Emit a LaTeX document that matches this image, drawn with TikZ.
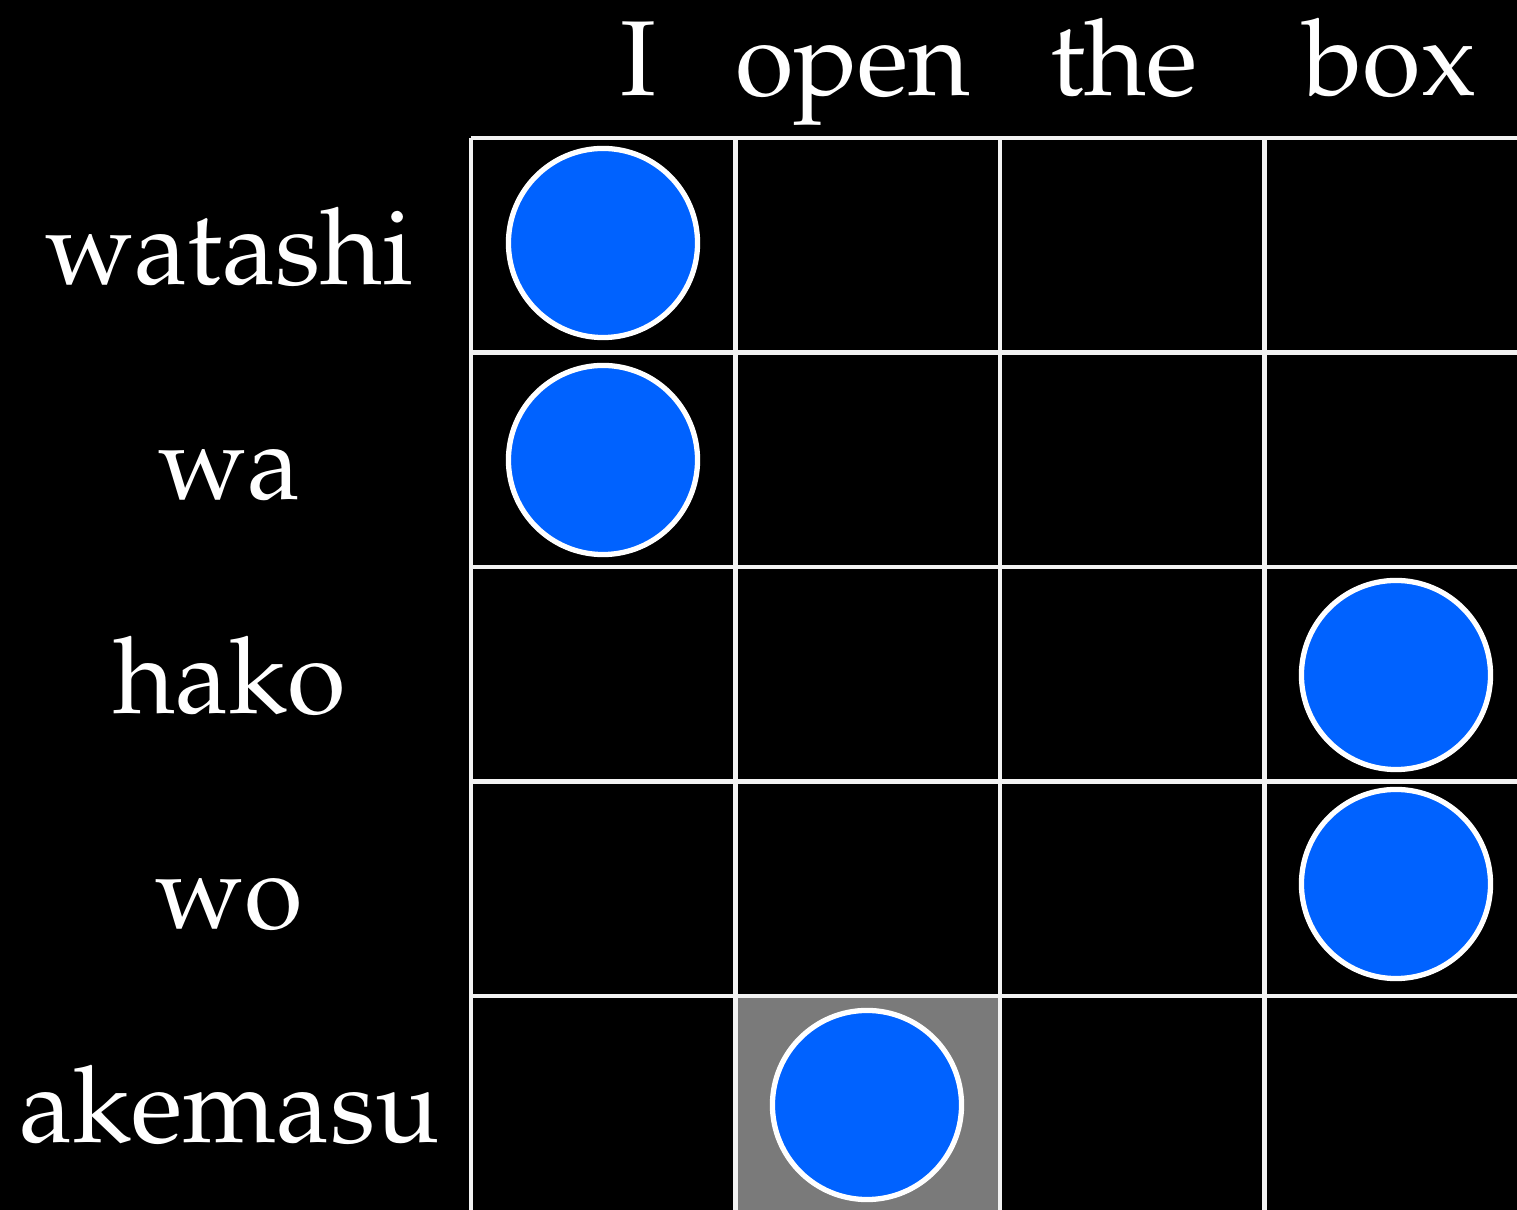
\documentclass[tikz,border=0pt]{standalone}
\usepackage[T1]{fontenc}
\usepackage{mathpazo}
\usepackage{xcolor}
\usepackage{tikz}
\usetikzlibrary{positioning}
\definecolor{dotblue}{HTML}{0062FF}
\definecolor{cellgray}{HTML}{7A7A7A}
\begin{document}
\begin{tikzpicture}[x=0.01cm, y=-0.01cm,
		word/.style={text=white, font=\fontsize{30.3}{36}\selectfont, anchor=base, inner sep=0pt},
		dot/.style={circle, fill=dotblue, draw=white, line width=1.5pt, minimum size=1.89cm, inner sep=0pt},
		gridline/.style={draw=white!90!gray, line width=1.3pt}]
		\fill[black] (0,0) rectangle (1517,1210);
		\useasboundingbox (0,0) rectangle (1517,1210);
		\clip (0,0) rectangle (1517,1210);
		% highlighted cell
		\fill[cellgray] (735.5,996) rectangle (1000,1220);
		\foreach \x in {471,735.5,1000,1264.5,1529}
		\draw[gridline] (\x,138) -- (\x,1220);
		\foreach \y in {138,352.5,567,781.5,996}
		\draw[gridline] (471,\y) -- (1540,\y);
		\foreach \w/\x in {I/638, open/853, the/1124, box/1390}
		\node[word] (head\w) at (\x,96) {\w};
		\foreach \w/\y in {watashi/285, wa/499.5, hako/714, wo/928.5, akemasu/1143}
		\node[word] (row\w) at (229.5,\y) {\w};
		\foreach \n/\x/\y in {a/603/243, b/603/460, c/1396/675, d/1396/884, e/867/1105}
		\node[dot] (dot\n) at (\x,\y) {};
	\end{tikzpicture}
\end{document}
